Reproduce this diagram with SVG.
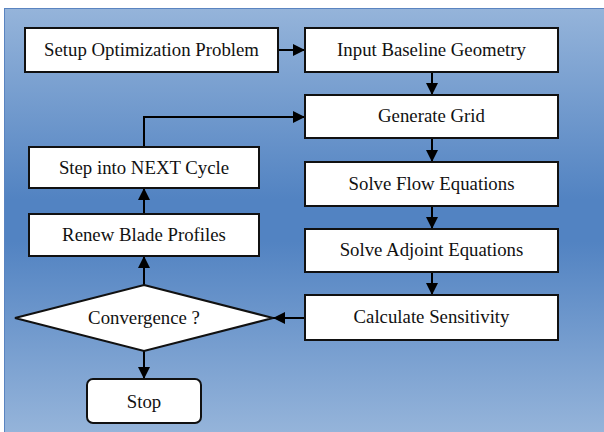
<svg xmlns="http://www.w3.org/2000/svg" width="604" height="432" viewBox="0 0 604 432">
  <defs>
    <linearGradient id="bg" x1="0" y1="0" x2="0" y2="1">
      <stop offset="0" stop-color="#95b4da"/>
      <stop offset="0.45" stop-color="#5283c2"/>
      <stop offset="0.55" stop-color="#5283c2"/>
      <stop offset="1" stop-color="#95b4da"/>
    </linearGradient>
    <marker id="arrow" viewBox="0 0 12 12" refX="12" refY="6" markerWidth="12" markerHeight="12" markerUnits="userSpaceOnUse" orient="auto">
      <path d="M0,0 L12,6 L0,12 Z" fill="#000"/>
    </marker>
  </defs>
  <style>
    .box { fill: #fff; stroke: #111; stroke-width: 2; }
    .label { font-family: "Liberation Serif", "Times New Roman", serif; font-size: 18.8px; fill: #111; text-anchor: middle; }
    .edge { fill: none; stroke: #000; stroke-width: 2; marker-end: url(#arrow); }
  </style>

  <!-- backdrop panel -->
  <rect x="0" y="0" width="604" height="432" fill="#fff"/>
  <rect x="4.5" y="8.5" width="600" height="424" fill="url(#bg)" stroke="#5a84c0" stroke-width="1"/>

  <!-- connectors -->
  <g id="connectors">
    <path class="edge" d="M278,50 L305,50"/>
    <path class="edge" d="M432,72 L432,95"/>
    <path class="edge" d="M432,138 L432,162"/>
    <path class="edge" d="M432,206 L432,229"/>
    <path class="edge" d="M432,272 L432,295"/>
    <path class="edge" d="M305,318 L273,318"/>
    <path class="edge" d="M144,285 L144,256"/>
    <path class="edge" d="M144,214 L144,188"/>
    <path class="edge" d="M144,147 L144,117 L305,117"/>
    <path class="edge" d="M144,351 L144,379"/>
  </g>

  <g id="setup">
    <rect class="box" x="25" y="28" width="253" height="44"/>
    <text class="label" x="151.5" y="56">Setup Optimization Problem</text>
  </g>
  <g id="input-geometry">
    <rect class="box" x="305" y="28" width="253" height="44"/>
    <text class="label" x="431.5" y="56">Input Baseline Geometry</text>
  </g>
  <g id="generate-grid">
    <rect class="box" x="305" y="95" width="253" height="43"/>
    <text class="label" x="431.5" y="122">Generate Grid</text>
  </g>
  <g id="solve-flow">
    <rect class="box" x="305" y="162" width="253" height="44"/>
    <text class="label" x="431.5" y="190">Solve Flow Equations</text>
  </g>
  <g id="solve-adjoint">
    <rect class="box" x="305" y="229" width="253" height="43"/>
    <text class="label" x="431.5" y="256">Solve Adjoint Equations</text>
  </g>
  <g id="sensitivity">
    <rect class="box" x="305" y="295" width="253" height="45"/>
    <text class="label" x="431.5" y="323">Calculate Sensitivity</text>
  </g>
  <g id="next-cycle">
    <rect class="box" x="29" y="147" width="230" height="41"/>
    <text class="label" x="144" y="174">Step into NEXT Cycle</text>
  </g>
  <g id="renew-blade">
    <rect class="box" x="29" y="214" width="230" height="42"/>
    <text class="label" x="144" y="241">Renew Blade Profiles</text>
  </g>
  <g id="convergence">
    <path class="box" d="M144,285 L273,318 L144,351 L15,318 Z"/>
    <text class="label" x="144" y="324">Convergence ?</text>
  </g>
  <g id="stop">
    <rect class="box" x="87" y="379" width="114" height="44" rx="6"/>
    <text class="label" x="144" y="408">Stop</text>
  </g>
</svg>
